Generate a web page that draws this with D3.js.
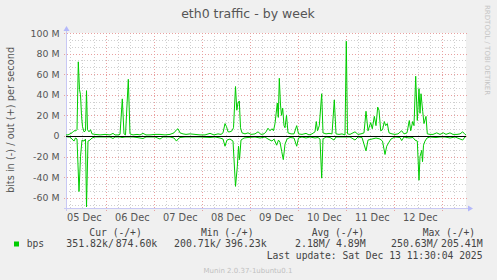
<!DOCTYPE html>
<html><head><meta charset="utf-8">
<script src="https://cdn.jsdelivr.net/npm/d3@7"></script>
<style>
html,body{margin:0;padding:0;background:#f0f0f0;}
svg{display:block;}
</style></head>
<body>
<svg id="c" width="497" height="280"></svg>
<script>
// ---------- data ----------
const title = "eth0 traffic - by week";
const yTitle = "bits in (-) / out (+) per second";
const startTime = new Date(2025, 11, 5, 3, 51);   // left edge of graph
const spanHours = 200;
// out (+) traffic, hours since start / Mbit/s
const outHours = [0,1,2,3,4,5,5.5,6.15,6.75,7.25,7.75,8.25,9,9.75,10.25,10.75,11.5,12.25,13,14.5,17,19.5,22,23.5,24.5,26,27,28.15,29,29.75,31.15,32,33.5,35.5,37,38.5,40,42,44.5,47,49.5,52,54,55.25,56,57,58.5,60,62,64.5,67,69.5,72,74,76,77.5,78.5,79.5,80.25,81,82,83,83.75,84.75,85.4,86,86.65,87.25,88,89.5,91,92.5,94.5,96,97.5,99,100,101,102,103,103.75,104.5,105.65,106.15,106.65,107.25,107.75,108.35,109,109.5,110.25,111,112.5,114,115.35,116.25,118,120,121.5,123,124.5,125.15,125.75,126.65,127.85,128.5,130,131.5,133,134.15,135,136.5,138,139.5,140.15,140.75,142,144.5,146,147.5,149,150,151,152.35,153.15,154.15,155,155.85,156.5,157.35,158.25,159.15,159.85,160.65,161.5,163,164.5,166,167.85,169,170.5,171.65,172.35,173.35,174,174.85,175.65,176.5,177,177.5,178.35,179,180,180.65,182,183.5,185.35,187,188.65,190,192,193.5,195.5,197,198.35,199.5,200];
const outMbps  = [1,1,2,3,5,5,6,72,45,40,20,9,4,5,44,6,4,6,2,1.5,1,1.5,1,2.5,1,1,1.5,36,2,1,55,2,1,1.5,1,2.5,1,1,1.5,1.5,1,1.5,3,6,7,3,2,1.5,2,1.5,1,1,2.5,1,2,1.5,3,12,9,4,4,5,8,48,25,32,34,8,3,2,3,1.5,2,4,1.5,2,4,7.5,5,7,5,12,32,18,56,30,20,27,10,8,20,3,2,2,10,2,1.5,2.5,1,2,4,14,5,10,41,3,2,2.5,2,35,2,1.5,2,1,92,2,1.5,4,1.5,2,3,24,5,13,7,19,10,28,25,5,6,14,10,12,3,2,1.5,2,5,2,3,15,5,14,10,58,15,46,22,41,24,12,19,2,1.5,1.5,3,1.5,3,1.5,3,1.5,1.5,2,4,1.5,1];
// in (-) traffic, hours since start / Mbit/s (plotted negative)
const inHours = [0,1,2,3,4,4.75,5.5,6.5,7.25,8,9,9.75,10.25,11,12,13,14.5,17,19.5,22,23.5,24.5,27,28,29.5,31,33.5,35.5,38.5,40,42,44.5,47,48.5,52,54,55.25,56,57,59.5,62,67,72,74.5,77,78.5,79.5,80.5,82,83.5,84.75,85.65,86.25,86.75,87.5,89,91,94.5,97,99.5,101,102,103,104,105.35,106.25,107,107.85,108.65,109.5,110.5,112,114,115.35,116.25,118,120,122,124.5,126,127,127.85,128.5,130,132,134,135,137,140,142,144.5,146,148,150,151,153,155,157,158.25,159.5,160.35,161.5,162.5,164.5,167,167.85,169,171.5,173.5,174.5,175.65,176.5,177,177.85,178.25,178.75,179.5,180.5,182,185,187,189.5,192,194.5,198.35,199.5,200];
const inMbps  = [0.5,1,1,3,5,2,3,54,20,4,5,3,69,5,4,2,1,1,1,1,2.5,1,1,1.5,1,1,1,1.5,2.5,1,1,1,3,1,1,2,5,3,1.5,1,1,1,1.5,1,2,3,10,4,3,5,49,30,10,23,4,2,1.5,1,2,1,3,4,5,3,9,4,6,15,23,8,3,1.5,2,10,2,1,2,1,2,1.5,3,41,3,1,1.5,4,1,1,1,1,4,1,1.5,14.5,4,3,2,3,5,18,10,6,3,1,1.5,4.5,1,2,1.5,4,5,43,20,14,25,9,5,2,1,1.5,1,1,2,1,4,1,0.5];
const yTicks = [-60,-40,-20,0,20,40,60,80,100];
const legendHeads = ["Cur (-/+)","Min (-/+)","Avg (-/+)","Max (-/+)"];
const legendIn  = ["351.82k/","200.71k/","2.18M/","250.63M/"];
const legendOut = ["874.60k","396.23k","4.89M","205.41M"];
const seriesName = "bps";
const lastUpdate = "Last update: Sat Dec 13 11:30:04 2025";
const footer = "Munin 2.0.37-1ubuntu0.1";
const watermark = "RRDTOOL / TOBI OETIKER";

// ---------- drawing ----------
const svg = d3.select("#c");
const L = 66, R = 466, T = 33, B = 208;
const endTime = new Date(+startTime + spanHours * 3600e3);
const x = d3.scaleTime().domain([startTime, endTime]).range([L, R]);
const y = d3.scaleLinear().domain([-70, 100]).range([B, T]);
const sans = "DejaVu Sans", mono = "DejaVu Sans Mono";
const green = "#00cc00";

svg.append("rect").attr("width",497).attr("height",280).attr("fill","#f0f0f0");
svg.append("rect").attr("x",L).attr("y",T).attr("width",R-L).attr("height",B-T).attr("fill","#ffffff");

const g = svg.append("g").attr("shape-rendering","crispEdges");
// minor y grid (three steps per major step)
const minorY = [];
yTicks.concat([-80]).forEach(v => { [1,2].forEach(k => { const m = v + k*20/3; if (m > -70 && m < 100) minorY.push(m); }); });
g.selectAll(".my").data(minorY).enter().append("line")
  .attr("x1",L).attr("x2",R+2).attr("y1",d=>Math.round(y(d))+0.5).attr("y2",d=>Math.round(y(d))+0.5)
  .attr("stroke","#cfcfcf").attr("stroke-dasharray","1,2");
// minor x grid (6h)
const minorX = d3.timeHour.every(6).range(startTime, endTime).filter(d => d.getHours() !== 0);
g.selectAll(".mx").data(minorX).enter().append("line")
  .attr("x1",d=>Math.round(x(d))+0.5).attr("x2",d=>Math.round(x(d))+0.5).attr("y1",T).attr("y2",B+2)
  .attr("stroke","#cfcfcf").attr("stroke-dasharray","1,2");
// major grid
g.selectAll(".My").data(yTicks).enter().append("line")
  .attr("x1",L-2).attr("x2",R+2).attr("y1",d=>Math.round(y(d))+0.5).attr("y2",d=>Math.round(y(d))+0.5)
  .attr("stroke","#e8a0a0").attr("stroke-dasharray","1,2");
const days = d3.timeDay.range(startTime, endTime);
g.selectAll(".Mx").data(days).enter().append("line")
  .attr("x1",d=>Math.round(x(d))+0.5).attr("x2",d=>Math.round(x(d))+0.5).attr("y1",T).attr("y2",B+3)
  .attr("stroke","#e8a0a0").attr("stroke-dasharray","1,2");

// axis lines + arrows
g.append("line").attr("x1",L+0.5).attr("x2",L+0.5).attr("y1",T-2).attr("y2",B+3).attr("stroke","#c8c8f4");
g.append("line").attr("x1",L-2).attr("x2",R+3).attr("y1",B+0.5).attr("y2",B+0.5).attr("stroke","#c8c8f4");
svg.append("path").attr("d",`M${L-2.5},${T-2}L${L+3.5},${T-2}L${L+0.5},${T-7}Z`).attr("fill","#b4b8fa");
svg.append("path").attr("d",`M${R+2},${B-2.5}L${R+2},${B+3.5}L${R+7},${B+0.5}Z`).attr("fill","#b4b8fa");

// y labels
svg.selectAll(".yl").data(yTicks).enter().append("text")
  .attr("x",59.5).attr("y",d=>y(d)+3.5).attr("text-anchor","end")
  .attr("font-family",sans).attr("font-size","9.4px").attr("fill","#555")
  .text(d => d === 0 ? "0" : d + " M");
// x labels at noon
const noons = days.map(d => d3.timeHour.offset(d, -12)).concat([d3.timeHour.offset(days[days.length-1], 12)])
  .filter(d => x(d) > L && x(d) < R);
svg.selectAll(".xl").data(noons).enter().append("text")
  .attr("x",d=>x(d)+2).attr("y",220.5).attr("text-anchor","middle")
  .attr("font-family",sans).attr("font-size","9.8px").attr("fill","#555")
  .text(d3.timeFormat("%d %b"));

// series
const line = d3.line().x(d=>x(d[0])).y(d=>y(d[1]));
const toDate = h => new Date(+startTime + h * 3600e3);
const outPts = outHours.map((h,i)=>[toDate(h), outMbps[i]]);
const inPts = inHours.map((h,i)=>[toDate(h), -inMbps[i]]);
svg.append("path").attr("d",line(inPts)).attr("fill","none").attr("stroke",green).attr("stroke-width",1);
svg.append("path").attr("d",line(outPts)).attr("fill","none").attr("stroke",green).attr("stroke-width",1);
// zero line
svg.append("line").attr("x1",L).attr("x2",R).attr("y1",Math.round(y(0))+0.5).attr("y2",Math.round(y(0))+0.5)
  .attr("stroke","#000").attr("stroke-width",1.2);

// titles
svg.append("text").attr("x",248).attr("y",17.5).attr("text-anchor","middle")
  .attr("font-family",sans).attr("font-size","12.5px").attr("fill","#555").text(title);
svg.append("text").attr("transform","translate(14.2,120) rotate(-90)").attr("text-anchor","middle")
  .attr("font-family",sans).attr("font-size","9.8px").attr("fill","#555").text(yTitle);
svg.append("text").attr("transform","translate(485,5) rotate(90)").attr("text-anchor","start")
  .attr("font-family",sans).attr("font-size","7px").attr("fill","#c4c4c4").text(watermark);

// legend
const headX = [89.3, 201, 311.7, 422.7];
const inStart = [66.3, 174, 295, 391];
const outEnd = [157.3, 266.7, 365.7, 482.7];
svg.selectAll(".lh").data(legendHeads).enter().append("text")
  .attr("x",(d,i)=>headX[i]).attr("y",235.5).attr("font-family",mono).attr("font-size","9.7px").attr("fill","#444")
  .text(d=>d);
svg.append("rect").attr("x",14).attr("y",241.5).attr("width",5).attr("height",5).attr("fill",green);
svg.append("text").attr("x",26.7).attr("y",247).attr("font-family",mono).attr("font-size","9.7px").attr("fill","#444").text(seriesName);
svg.selectAll(".li").data(legendIn).enter().append("text")
  .attr("x",(d,i)=>inStart[i]).attr("y",247).attr("font-family",mono).attr("font-size","9.9px").attr("fill","#444").text(d=>d);
svg.selectAll(".lo").data(legendOut).enter().append("text")
  .attr("x",(d,i)=>outEnd[i]).attr("y",247).attr("text-anchor","end").attr("font-family",mono).attr("font-size","9.9px").attr("fill","#444").text(d=>d);
svg.append("text").attr("x",482.5).attr("y",259).attr("text-anchor","end")
  .attr("font-family",mono).attr("font-size","9.7px").attr("fill","#444").text(lastUpdate);
svg.append("text").attr("x",248).attr("y",272.5).attr("text-anchor","middle")
  .attr("font-family",sans).attr("font-size","7px").attr("fill","#c0c0c0").text(footer);
</script>
</body></html>
